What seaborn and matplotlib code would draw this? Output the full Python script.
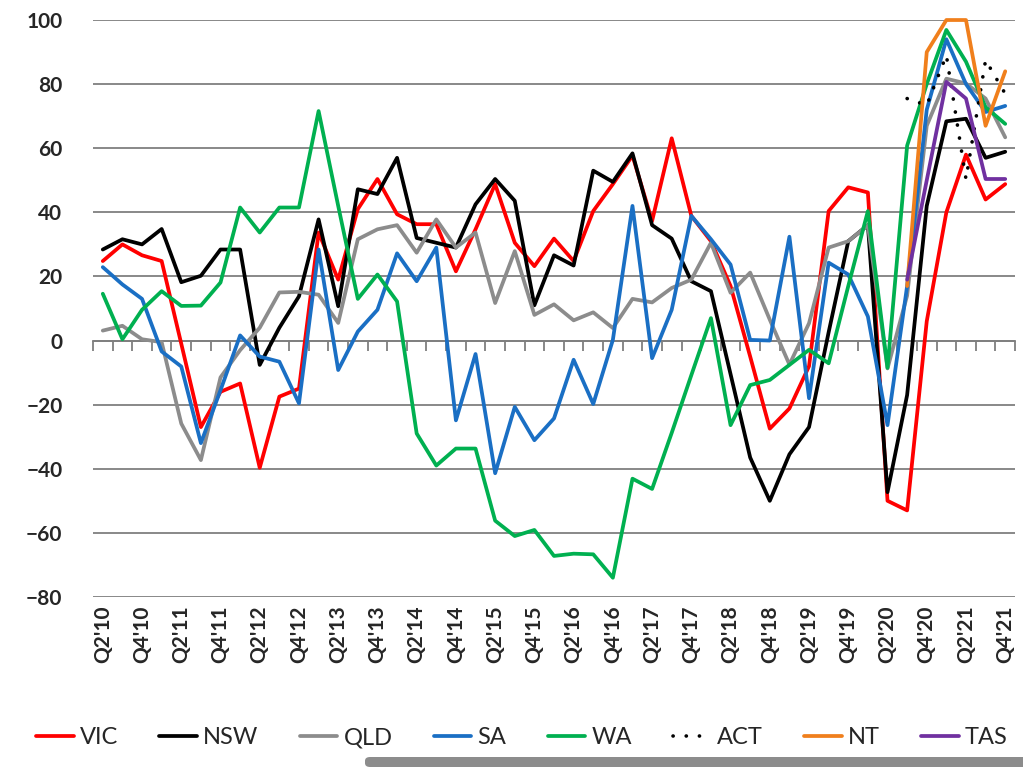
import numpy as np
import pandas as pd
import matplotlib
import matplotlib.pyplot as plt
import seaborn as sns
from matplotlib.patches import FancyBboxPatch

matplotlib.use('Agg')

# Quarters Q2'10 .. Q4'21
quarters = [f"Q{q}'{y % 100:02d}" for y in range(2010, 2022) for q in range(1, 5)][1:]

vic = [24.8, 30, 26.6, 24.8, -1, -27, -16, -13.4, -39.7, -17.5, -15, 33.7, 19, 41, 50.4, 39.4,
       36.3, 36.3, 21.6, 34.7, 48.8, 30.5, 23.2, 31.8, 24.8, 40.4, 48.8, 57.7, 37.3, 63.1, 38.9, 31,
       17, -5, -27.5, -21.2, -8, 40.4, 47.8, 46.2, -50, -53, 6, 40, 58, 44, 48.8]
nsw = [28.4, 31.6, 30, 34.8, 18.2, 20.2, 28.4, 28.4, -7.6, 4, 13.8, 37.8, 10.7, 47.2, 45.7, 57,
       32, 30.5, 29, 42.5, 50.4, 43.6, 11, 26.6, 23.4, 53, 49.5, 58.4, 36, 31.8, 18.5, 15.4,
       -10.5, -36.5, -50, -35.5, -27, 2.6, 31, 36, -47.3, -17, 42, 68.4, 69.2, 57, 58.9]
qld = [3.1, 4.6, 0.4, -0.5, -25.9, -37.3, -11.5, -3, 4, 15, 15.2, 14.3, 5.5, 31.6, 34.7, 36,
       27.4, 37.8, 29, 33.7, 11.7, 27.9, 8, 11.3, 6.3, 8.8, 3.9, 13, 11.9, 16.4, 19, 30.5,
       14.9, 21.2, 6.5, -7.5, 5.4, 29, 31, 36, -8.7, 14, 67, 81.7, 80.2, 75.5, 63.4]
sa = [22.9, 17.5, 13, -3.4, -8.1, -32, -15.5, 1.6, -5, -6.6, -19.6, 28.4, -9.2, 2.8, 9.6, 27.2,
      18.5, 29, -24.9, -4.2, -41.4, -20.7, -31.1, -24.3, -6, -19.8, 0.2, 42, -5.5, 9.6, 38.9, 31.6,
      23.7, 0.2, 0, 32.4, -18, 24.3, 20.6, 7.5, -26.4, 17, 72, 94, 80, 71.3, 73.2]
wa = [14.6, 0.4, 9.6, 15.4, 10.8, 10.9, 18.1, 41.5, 33.7, 41.5, 41.5, 71.6, 42, 13, 20.6, 12.2,
      -29, -39, -33.7, -33.7, -56.2, -61, -59.1, -67.2, -66.5, -66.7, -74, -43.1, -46.3, -28.8, -10.8, 7,
      -26.4, -13.9, -12.3, -7.6, -2.9, -7.1, 17, 40.4, -8.5, 60.8, 80, 96.9, 87, 72.8, 67.6]
nan = np.nan
act = [nan] * 41 + [75.5, 73.4, 89, 50.4, 87.5, 77]
nt = [nan] * 41 + [17, 90, 100, 100, 67, 84]
tas = [nan] * 41 + [19, 50, 80.7, 75.5, 50.4, 50.4]

states = ['VIC', 'NSW', 'QLD', 'SA', 'WA', 'ACT', 'NT', 'TAS']
series = [vic, nsw, qld, sa, wa, act, nt, tas]
colors = ['#ff0000', '#000000', '#8c8c8c', '#1a6fc4', '#00b050', '#000000', '#f07f1c', '#7030a0']

df = pd.DataFrame({'idx': np.arange(len(quarters))})
for s, v in zip(states, series):
    df[s] = v

sns.set_style('white')
plt.rcParams['font.family'] = ['Lato', 'DejaVu Sans']

fig = plt.figure(figsize=(10.23, 7.67), dpi=100)
ax = fig.add_axes([0.0909, 0.2217, 0.9013, 0.7522])

for s, c in zip(states, colors):
    if s == 'ACT':
        sns.lineplot(data=df, x='idx', y=s, ax=ax, color=c, linewidth=2.6,
                     linestyle=(0, (0.05, 3.6)), dash_capstyle='round', label=s, clip_on=False)
    else:
        sns.lineplot(data=df, x='idx', y=s, ax=ax, color=c, linewidth=2.7, label=s, clip_on=False)

ymin, ymax = -80, 100
ax.set_ylim(ymin, ymax)
ax.set_xlim(-0.5, len(quarters) - 0.5)
ax.set_yticks(range(-80, 101, 20))
ax.yaxis.grid(True, color='#7f7f7f', linewidth=1.3)
ax.xaxis.grid(False)
for sp in ax.spines.values():
    sp.set_visible(False)

ax.set_xticks(range(0, len(quarters), 2))
ax.set_xticklabels(quarters[::2], rotation=90, fontweight='bold', fontsize=15)
ax.tick_params(axis='x', length=0, pad=6)
ax.tick_params(axis='y', length=0, pad=22, labelsize=15)
for t in ax.get_yticklabels():
    t.set_fontweight('bold')
ax.set_xlabel('')
ax.set_ylabel('')

# category axis crossing at zero with ticks between quarters
secax = ax.secondary_xaxis((0 - ymin) / (ymax - ymin))
secax.set_xticks(np.arange(-0.5, len(quarters), 1))
secax.tick_params(direction='out', length=7, width=1.3, color='#7f7f7f', labelbottom=False, labeltop=False)
for sp in secax.spines.values():
    sp.set_color('#7f7f7f')
    sp.set_linewidth(1.3)

handles, labels = ax.get_legend_handles_labels()
ax.get_legend().remove()
fig.legend(handles, labels, loc='center', bbox_to_anchor=(0.51, 0.038), ncol=8, frameon=False,
           fontsize=17, handlelength=1.6, handletextpad=0.25, columnspacing=1.75)

# grey bar along the bottom edge
fig.patches.append(FancyBboxPatch((365 / 1023, 0.0), 0.66, 10 / 767, boxstyle='round,pad=0,rounding_size=0.005',
                                  transform=fig.transFigure, facecolor='#8c8c8c', edgecolor='none'))

fig.savefig('out.png', dpi=100)
